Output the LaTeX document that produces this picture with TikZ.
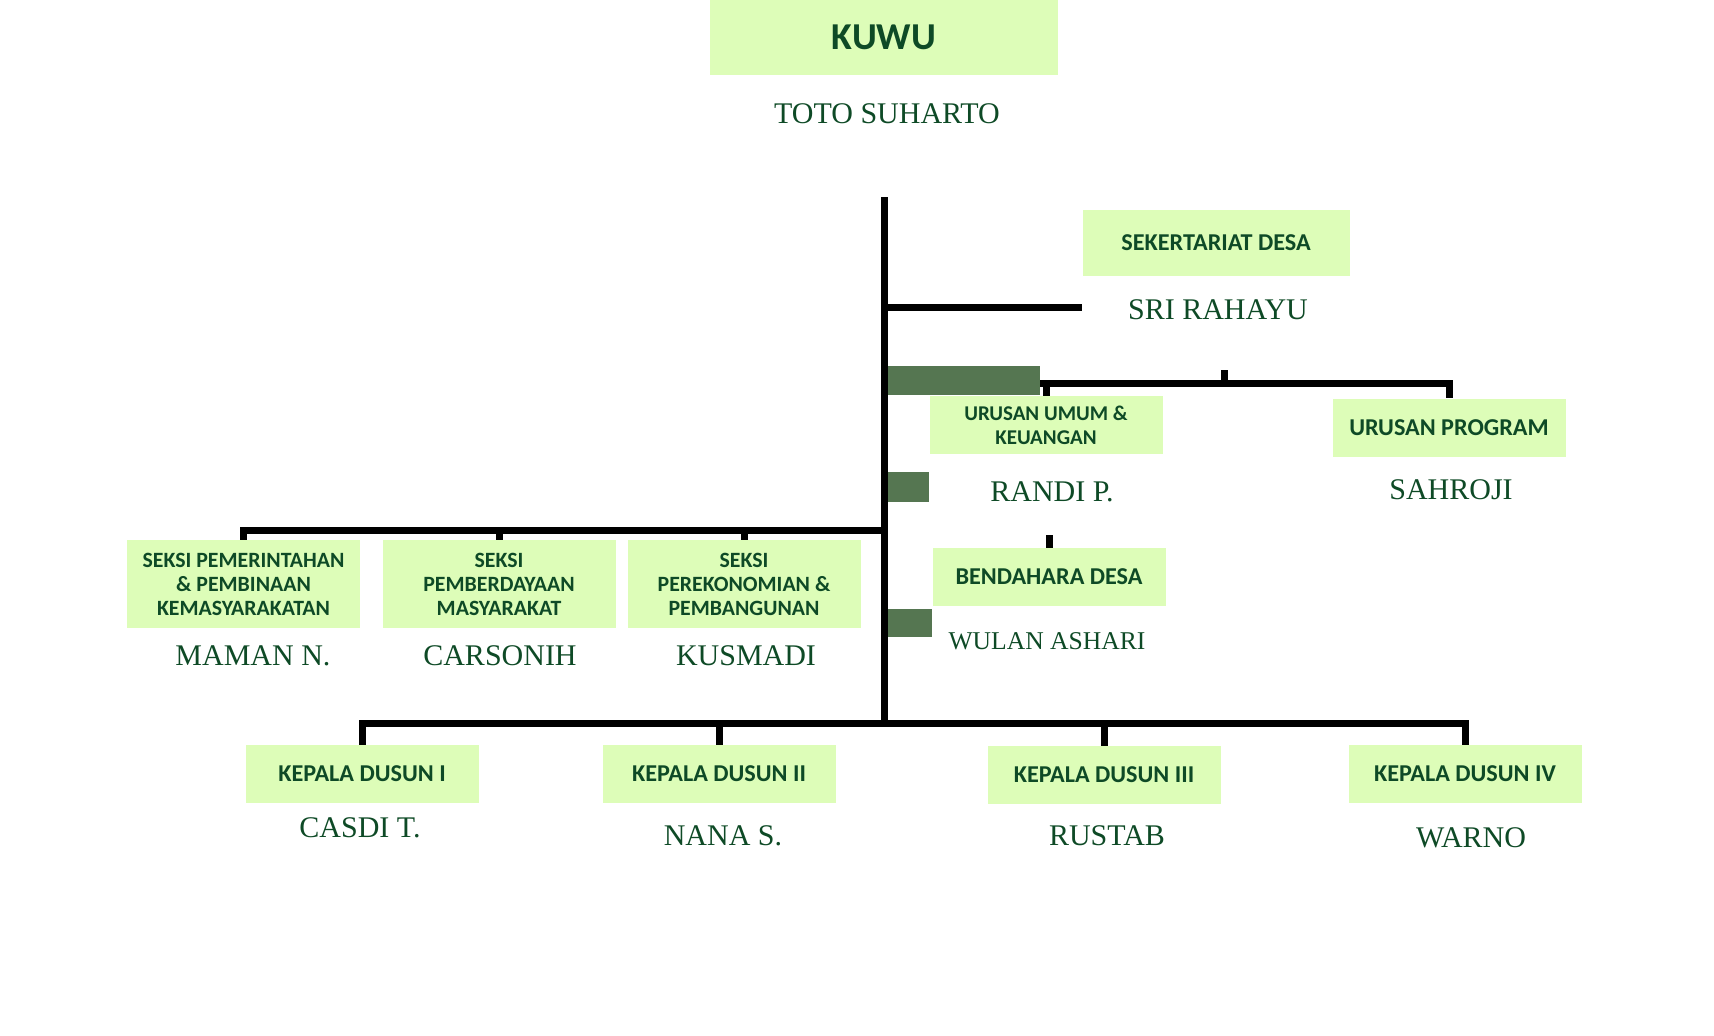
\documentclass[tikz,border=0pt]{standalone}
\usepackage{fontspec}
\usepackage{tikz}
\usetikzlibrary{calc,positioning}
\newfontfamily\labelfont{Carlito}
\newfontfamily\namefont{Liberation Serif}
\definecolor{kotak}{RGB}{221,253,184}
\definecolor{tulisan}{RGB}{14,74,38}
\definecolor{balok}{RGB}{85,118,81}

\tikzset{
	jabatan/.style={fill=kotak,text=tulisan,align=center,inner sep=0pt,
		minimum width=116.5pt,minimum height=29pt,
		font=\labelfont\bfseries\fontsize{12.1}{14}\selectfont},
	seksi/.style={jabatan,minimum height=44pt,
		font=\labelfont\bfseries\fontsize{10.9}{12}\selectfont},
	nama/.style={text=tulisan,inner sep=0pt,font=\namefont\fontsize{15}{18}\selectfont},
	garis/.style={black,line width=3.5pt},
	batang/.style={fill=balok},
}

\begin{document}
\begin{tikzpicture}[x=0.5pt,y=-0.5pt]

\useasboundingbox (0,0) rectangle (1714,1035);

% kuwu
\node[jabatan,minimum width=174pt,minimum height=37.5pt,font=\labelfont\bfseries\fontsize{19}{22}\selectfont] (kuwu) at (884,37.5) {KUWU};
\node[nama] (toto) at (887,114) {TOTO SUHARTO};

% sekretariat
\node[jabatan,minimum width=133.5pt,minimum height=33pt] (sekdes) at (1216,243) {SEKERTARIAT DESA};
\node[nama] (sri) at (1218,310) {SRI RAHAYU};

% urusan
\node[jabatan,font=\labelfont\bfseries\fontsize{10.5}{12}\selectfont] (uumum) at (1046,425) {URUSAN UMUM \&\\KEUANGAN};
\node[nama] (randi) at (1052,492) {RANDI P.};
\node[jabatan] (uprog) at (1449,427.5) {URUSAN PROGRAM};
\node[nama] (sahroji) at (1451,490) {SAHROJI};

% bendahara
\node[jabatan] (bend) at (1049,577) {BENDAHARA DESA};
\node[nama,font=\namefont\fontsize{12.8}{15}\selectfont] (wulan) at (1047,641) {WULAN ASHARI};

% seksi
\node[seksi] (seksi1) at (243.5,584) {SEKSI PEMERINTAHAN\\\& PEMBINAAN\\KEMASYARAKATAN};
\node[nama] (maman) at (253,656) {MAMAN N.};
\node[seksi] (seksi2) at (499,584) {SEKSI\\PEMBERDAYAAN\\MASYARAKAT};
\node[nama] (carsonih) at (500,656) {CARSONIH};
\node[seksi] (seksi3) at (744,584) {SEKSI\\PEREKONOMIAN \&\\PEMBANGUNAN};
\node[nama] (kusmadi) at (746,656) {KUSMADI};

% kepala dusun
\node[jabatan] (dusun1) at (362,774) {KEPALA DUSUN I};
\node[nama] (casdi) at (360,828) {CASDI T.};
\node[jabatan] (dusun2) at (719,774) {KEPALA DUSUN II};
\node[nama] (nana) at (723,836) {NANA S.};
\node[jabatan] (dusun3) at (1104,775) {KEPALA DUSUN III};
\node[nama] (rustab) at (1107,836) {RUSTAB};
\node[jabatan] (dusun4) at (1465,774) {KEPALA DUSUN IV};
\node[nama] (warno) at (1471,838) {WARNO};

% balok hijau
\fill[batang] (887,366) rectangle (1040,395);
\fill[batang] (887,472) rectangle (uumum.south west |- 0,502);
\fill[batang] (887,609) rectangle (bend.south west |- 0,637);

% garis
\coordinate (atas) at (884,197);
\coordinate (bawah) at (884,727);
\coordinate (cabsek) at (884,307);
\coordinate (cabur) at (1040,383);
\coordinate (tick) at (1224,383);
\coordinate (cabseksi) at (884,530);
\coordinate (cabdusun) at (884,723);

\draw[garis] (atas) -- (bawah);
\draw[garis] (cabsek) -- (cabsek -| sekdes.west);

\draw[garis] (cabur) -- (cabur -| uprog.north) -- (uprog.north);
\draw[garis] (cabur -| uumum.north) -- (uumum.north);
\draw[garis] (tick) -- ++(0,-13);
\draw[garis] (bend.north) -- ++(0,-13);

\draw[garis] (cabseksi) -- (cabseksi -| seksi1.north) -- (seksi1.north);
\draw[garis] (cabseksi -| seksi2.north) -- (seksi2.north);
\draw[garis] (cabseksi -| seksi3.north) -- (seksi3.north);

\draw[garis] (dusun1.north) -- (dusun1.north |- cabdusun) -- (dusun4.north |- cabdusun) -- (dusun4.north);
\draw[garis] (cabdusun -| dusun2.north) -- (dusun2.north);
\draw[garis] (cabdusun -| dusun3.north) -- (dusun3.north);

\end{tikzpicture}
\end{document}
